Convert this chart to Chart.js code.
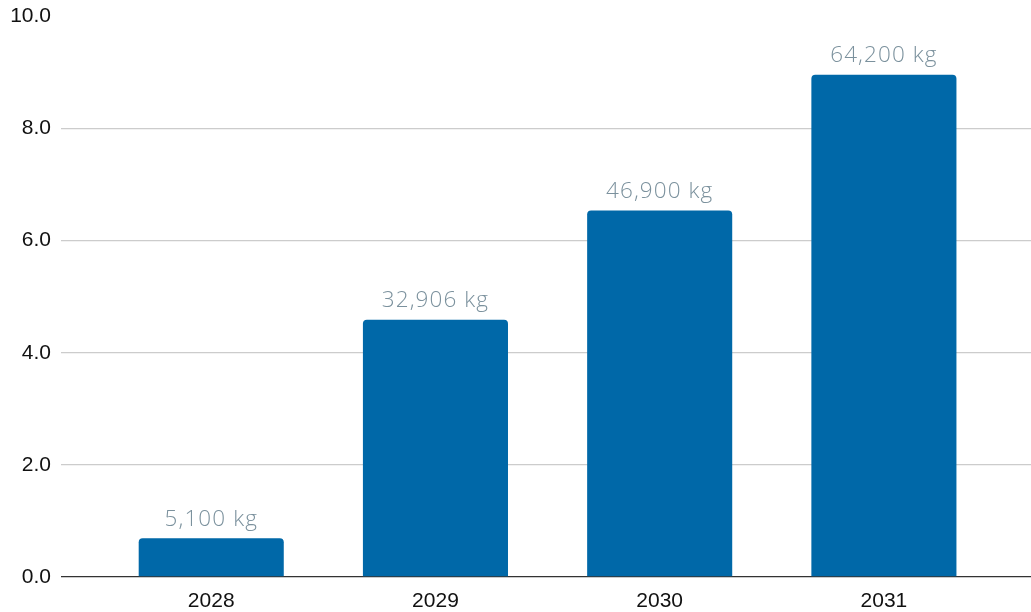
<!DOCTYPE html>
<html>
<head>
<meta charset="utf-8">
<script src="https://cdn.jsdelivr.net/npm/chart.js@4"></script>
<style>
html,body{margin:0;padding:0;background:#fff;}
#wrap{width:1031px;height:612px;position:relative;}
</style>
</head>
<body>
<div id="wrap"><canvas id="c" width="1031" height="612"></canvas></div>
<script>
const categories = ["2028", "2029", "2030", "2031"];
const values = [0.69, 4.59, 6.54, 8.96];
const valueLabels = ["5,100 kg", "32,906 kg", "46,900 kg", "64,200 kg"];
const yTicks = [0, 2, 4, 6, 8, 10];

const points = values.map((v, i) => ({x: i, y: v}));

const labelPlugin = {
  id: 'barLabels',
  afterDatasetsDraw(chart) {
    const ctx = chart.ctx;
    const meta = chart.getDatasetMeta(0);
    ctx.save();
    ctx.font = '300 22.5px "Open Sans", sans-serif';
    try { ctx.letterSpacing = '1.1px'; } catch (e) {}
    ctx.fillStyle = '#7b919d';
    ctx.textAlign = 'center';
    ctx.textBaseline = 'middle';
    meta.data.forEach((bar, i) => {
      ctx.fillText(valueLabels[i], bar.x, bar.y - 19);
    });
    ctx.restore();
  }
};

const tickFont = {family: '"Liberation Sans", Arial, sans-serif', size: 21, lineHeight: 1};

new Chart(document.getElementById('c'), {
  type: 'bar',
  data: {
    datasets: [{
      data: points,
      backgroundColor: '#0068a8',
      borderRadius: {topLeft: 4, topRight: 4, bottomLeft: 0, bottomRight: 0},
      borderSkipped: 'start',
      categoryPercentage: 1,
      barPercentage: 0.647
    }]
  },
  options: {
    responsive: false,
    animation: false,
    devicePixelRatio: 1,
    layout: {padding: {top: 16.5, right: 0, left: 0, bottom: 0}},
    plugins: {legend: {display: false}, tooltip: {enabled: false}},
    scales: {
      x: {
        type: 'linear',
        offset: false,
        min: -0.67,
        max: 3.656,
        afterBuildTicks(scale) {
          scale.ticks = categories.map((c, i) => ({value: i}));
        },
        afterFit(scale) {
          scale.height = 35;
          scale.paddingLeft = 0; scale.paddingRight = 0;
        },
        ticks: {
          callback: (v) => categories[v] !== undefined ? categories[v] : '',
          color: '#111',
          font: tickFont,
          padding: 14,
          autoSkip: false,
          maxRotation: 0
        },
        grid: {display: false, drawTicks: false},
        border: {display: false}
      },
      y: {
        min: 0,
        max: 10,
        afterBuildTicks(scale) {
          scale.ticks = yTicks.map(v => ({value: v}));
        },
        afterFit(scale) {
          scale.width = 61;
          scale.paddingTop = 0; scale.paddingBottom = 0;
        },
        ticks: {
          callback: (v) => Number(v).toFixed(1),
          color: '#111',
          font: tickFont,
          padding: 10
        },
        grid: {
          drawTicks: false,
          color: (ctx) => ctx.tick && ctx.tick.value === 0 ? '#333' : (ctx.tick && ctx.tick.value === 10 ? 'rgba(0,0,0,0)' : '#cccccc'),
          lineWidth: 1.3
        },
        border: {display: false}
      }
    }
  },
  plugins: [labelPlugin]
});
</script>
</body>
</html>
